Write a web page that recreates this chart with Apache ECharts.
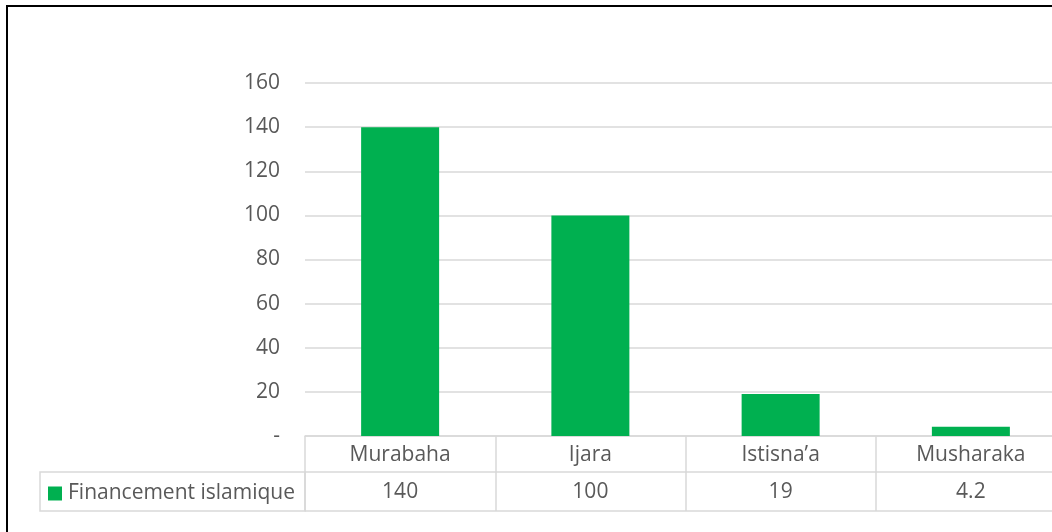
<!DOCTYPE html>
<html>
<head>
<meta charset="utf-8">
<script src="https://cdn.jsdelivr.net/npm/echarts@6/dist/echarts.min.js"></script>
<style>
  html, body { margin: 0; padding: 0; overflow: hidden; background: #fff; }
  #chart { width: 1100px; height: 560px; }
</style>
</head>
<body>
<div id="chart"></div>
<script>
// Islamic financing by contract type
const categories = ['Murabaha', 'Ijara', 'Istisna\u2019a', 'Musharaka'];
const values = [140, 100, 19, 4.2];
const valueLabels = ['140', '100', '19', '4.2'];
const seriesName = 'Financement islamique';
const yTicks = { min: 0, max: 160, interval: 20 };

const GREEN = '#00B050';
const TEXT = '#595959';
const RULE = '#D9D9D9';
const FONT = 'Open Sans';
const FS = 21;

const chart = echarts.init(document.getElementById('chart'), null, { renderer: 'canvas' });

const tableAxis = (offset, tickLen, showLabels, labelMargin, formatter) => ({
  type: 'category',
  data: categories,
  position: 'bottom',
  offset: offset,
  gridIndex: 0,
  axisLine: { show: true, lineStyle: { color: RULE, width: 1.5 } },
  axisTick: { show: tickLen > 0, length: tickLen, lineStyle: { color: RULE, width: 1.5 } },
  axisLabel: {
    show: showLabels,
    margin: labelMargin,
    verticalAlign: 'middle',
    color: TEXT,
    fontFamily: FONT,
    fontSize: FS,
    formatter: formatter
  },
  splitLine: { show: false }
});

chart.setOption({
  animation: false,
  textStyle: { fontFamily: FONT },
  grid: { left: 305, top: 83, width: 761, height: 353, containLabel: false },
  legend: {
    show: true,
    left: 45,
    top: 480,
    padding: 3,
    icon: 'rect',
    itemWidth: 14,
    itemHeight: 14,
    itemGap: 0,
    textStyle: { color: TEXT, fontFamily: FONT, fontSize: FS, padding: [0, 0, 0, 1] },
    data: [seriesName]
  },
  xAxis: [
    tableAxis(0, 36, true, 19.5, null),
    tableAxis(36, 39, true, 20.5, (v, i) => valueLabels[i]),
    tableAxis(75, 0, false, 0, null)
  ],
  yAxis: {
    type: 'value',
    min: yTicks.min,
    max: yTicks.max,
    interval: yTicks.interval,
    axisLine: { show: false },
    axisTick: { show: false },
    axisLabel: {
      margin: 25,
      padding: [4, 0, 0, 0],
      color: TEXT,
      fontFamily: FONT,
      fontSize: FS,
      formatter: v => (v === 0 ? '-' : String(v))
    },
    splitLine: { lineStyle: { color: RULE, width: 1.5 } }
  },
  series: [{
    name: seriesName,
    type: 'bar',
    xAxisIndex: 0,
    data: values,
    barWidth: 78,
    itemStyle: { color: GREEN }
  }],
  graphic: [
    // legend cell of the data table
    {
      type: 'rect',
      shape: { x: 40, y: 472, width: 265, height: 39 },
      style: { fill: 'none', stroke: RULE, lineWidth: 1.5 },
      z: 0
    },
    // chart frame
    {
      type: 'rect',
      shape: { x: 7, y: 6, width: 1200, height: 700 },
      style: { fill: 'none', stroke: '#000', lineWidth: 2 },
      z: 10
    }
  ]
});
</script>
</body>
</html>
